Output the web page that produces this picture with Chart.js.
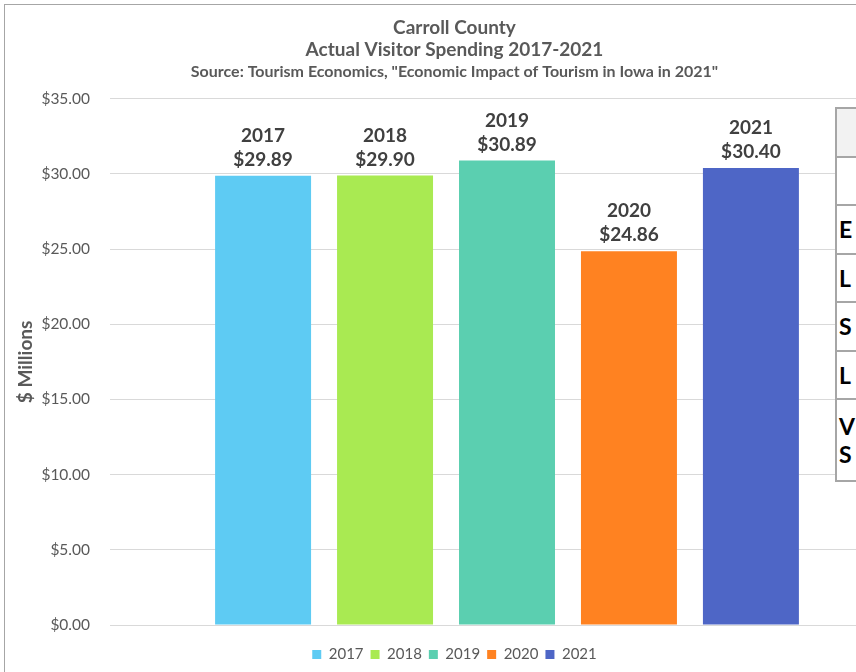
<!DOCTYPE html>
<html>
<head>
<meta charset="utf-8">
<script src="https://cdn.jsdelivr.net/npm/chart.js@4"></script>
<style>
  html, body { margin: 0; padding: 0; background: #fff; overflow: hidden; width: 856px; height: 672px; }
  #frame { position: absolute; left: 4px; top: 4px; width: 920px; height: 700px;
           border-left: 1px solid #a6a6a6; border-top: 1px solid #a6a6a6; }
  #wrap { position: absolute; left: 5px; top: 5px; width: 905px; height: 667px; }
  #side { position: absolute; left: 835px; top: 107px; width: 220px; border-collapse: collapse;
          background: #fff; font-family: Lato, sans-serif; font-weight: bold; font-size: 23px; color: #000; }
  #side td { border: 2px solid #a6a6a6; padding: 0 0 0 2px; height: 46.5px; line-height: 28px; white-space: nowrap; }
  #side tr.head td { background: #f2f2f2; }
</style>
</head>
<body>
<div id="frame"></div>
<div id="wrap"><canvas id="chart"></canvas></div>
<table id="side">
  <tr class="head"><td>&nbsp;</td></tr>
  <tr><td>&nbsp;</td></tr>
  <tr><td>E</td></tr>
  <tr><td>L</td></tr>
  <tr><td>S</td></tr>
  <tr><td>L</td></tr>
  <tr><td style="height:80px">V<br>S</td></tr>
</table>
<script>
// visitor spending, $ millions
const years = ['2017', '2018', '2019', '2020', '2021'];
const spending = [29.89, 29.90, 30.89, 24.86, 30.40];
const barColors = ['#5ecbf3', '#a9ea52', '#5bcfb0', '#ff8221', '#4e66c6'];
const yTicks = [0, 5, 10, 15, 20, 25, 30, 35];

const money = v => '$' + v.toFixed(2);

// year + amount written above each bar
const barLabels = {
    id: 'barLabels',
    afterDatasetsDraw(chart) {
        const ctx = chart.ctx;
        ctx.save();
        ctx.fillStyle = '#404040';
        ctx.font = 'bold 19px Lato';
        ctx.textAlign = 'center';
        ctx.textBaseline = 'middle';
        chart.data.datasets.forEach((ds, i) => {
            const bar = chart.getDatasetMeta(i).data[0];
            ctx.fillText(ds.label, bar.x, bar.y - 40);
            ctx.fillText(money(ds.data[0]), bar.x, bar.y - 16);
        });
        ctx.restore();
    }
};

new Chart(document.getElementById('chart'), {
    type: 'bar',
    data: {
        labels: [''],
        datasets: years.map((y, i) => ({
            label: y,
            data: [spending[i]],
            backgroundColor: barColors[i]
        }))
    },
    options: {
        responsive: true,
        maintainAspectRatio: false,
        animation: false,
        categoryPercentage: 0.768,
        barPercentage: 0.787,
        layout: { padding: { left: 0, right: 6, top: 0, bottom: 0 } },
        plugins: {
            title: {
                display: true,
                text: ['Carroll County', 'Actual Visitor Spending 2017-2021'],
                color: '#595959',
                font: { family: 'Lato', size: 19, weight: 'bold', lineHeight: 1.2 },
                padding: { top: 11, bottom: 0 }
            },
            subtitle: {
                display: true,
                text: 'Source: Tourism Economics, "Economic Impact of Tourism in Iowa in 2021"',
                color: '#595959',
                font: { family: 'Lato', size: 16, weight: 'bold', lineHeight: 1.2 },
                padding: { top: 1, bottom: 17 }
            },
            legend: {
                position: 'bottom',
                labels: {
                    color: '#595959',
                    font: { family: 'Lato', size: 15 },
                    boxWidth: 9,
                    boxHeight: 9,
                    padding: 7
                }
            },
            tooltip: { enabled: false }
        },
        scales: {
            x: {
                grid: { display: false },
                border: { display: false },
                ticks: { display: false },
                afterFit: s => { s.height = 15; }
            },
            y: {
                min: 0,
                max: 35,
                afterBuildTicks: s => { s.ticks = yTicks.map(v => ({ value: v })); },
                grid: { color: '#d9d9d9', drawTicks: false },
                border: { display: false },
                ticks: {
                    color: '#595959',
                    font: { family: 'Lato', size: 15.5 },
                    padding: 20,
                    callback: v => money(v)
                },
                title: {
                    display: true,
                    text: '$ Millions',
                    color: '#595959',
                    font: { family: 'Lato', size: 19, weight: 'bold' },
                    padding: { top: 9, bottom: 0 }
                },
                afterFit: s => { s.width = 105; }
            }
        }
    },
    plugins: [barLabels]
});
</script>
</body>
</html>
